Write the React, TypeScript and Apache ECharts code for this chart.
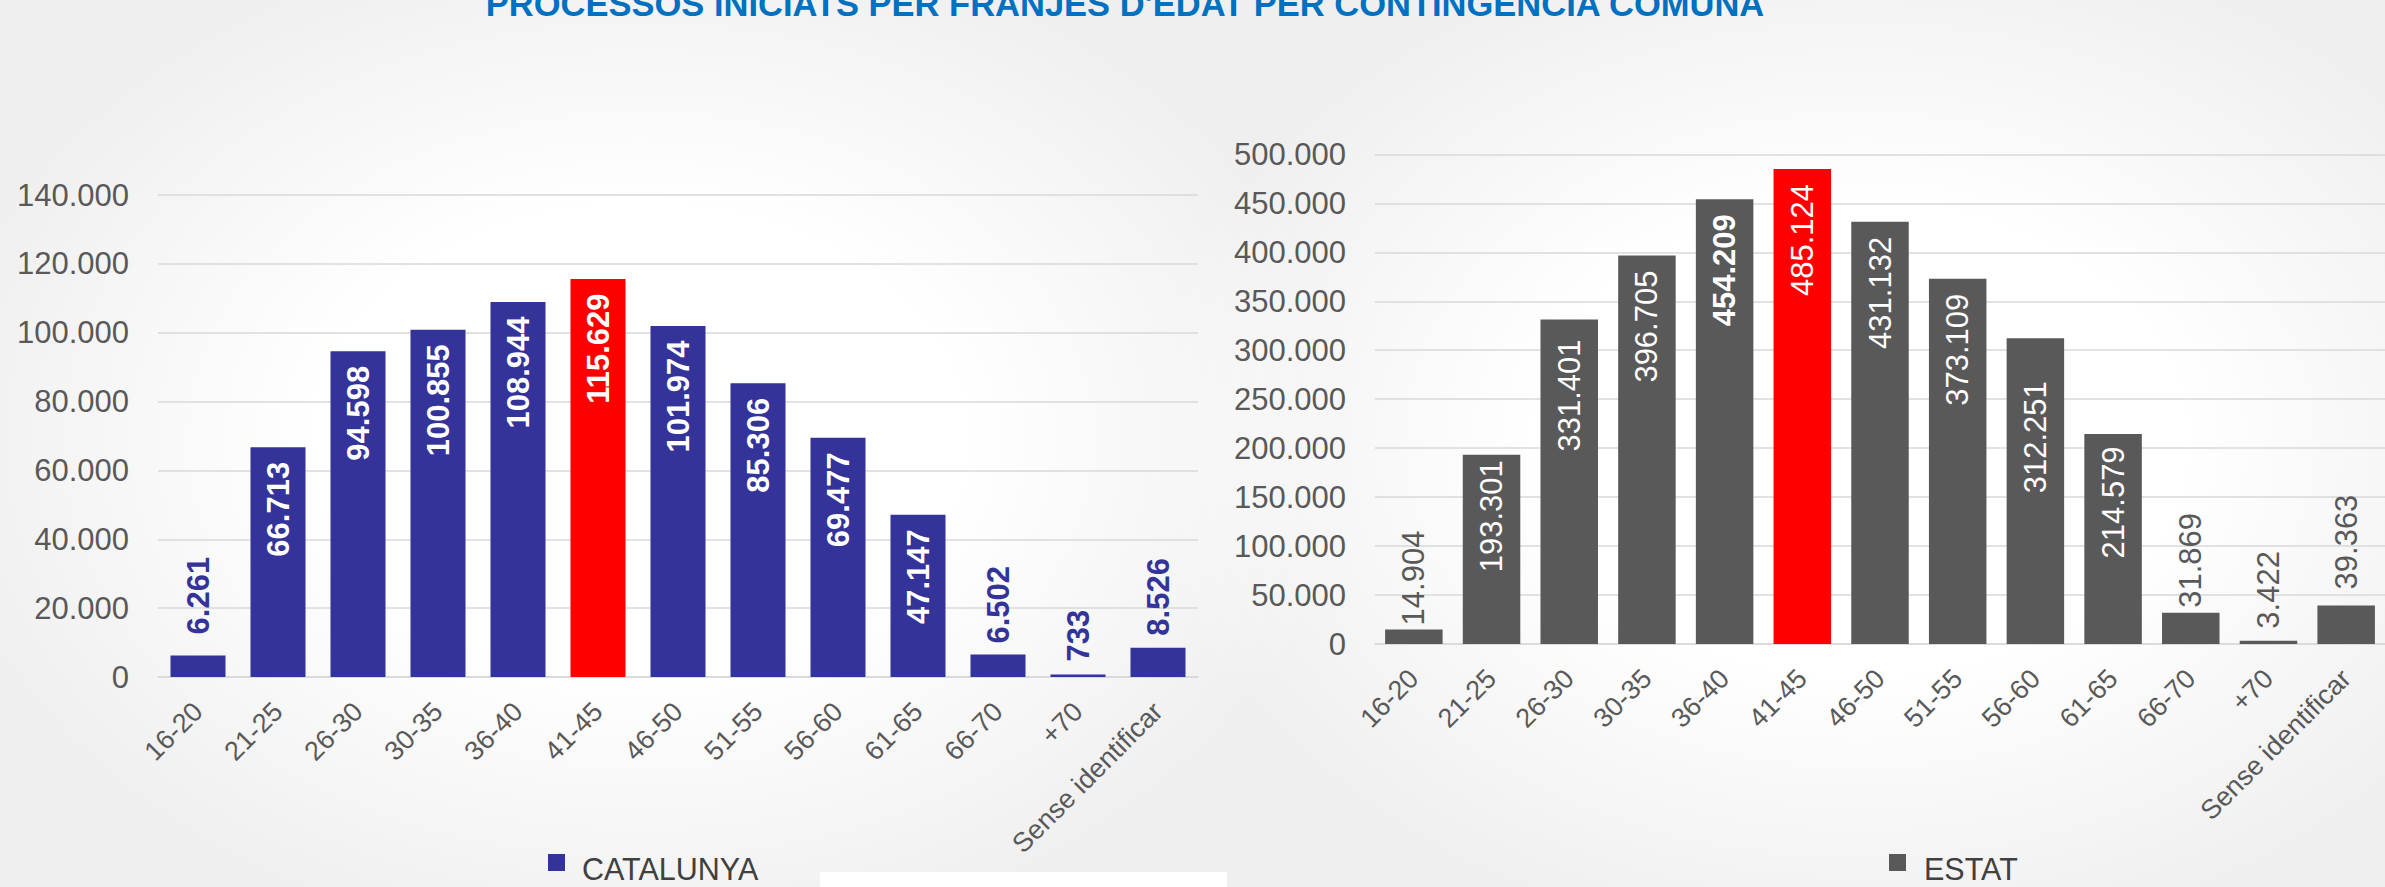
import React, { useEffect, useRef } from "react";
import * as echarts from "echarts";

// ---------- data ----------
const categories = [
  "16-20", "21-25", "26-30", "30-35", "36-40", "41-45", "46-50",
  "51-55", "56-60", "61-65", "66-70", "+70", "Sense identificar",
];
const catalunyaValues = [6261, 66713, 94598, 100855, 108944, 115629, 101974, 85306, 69477, 47147, 6502, 733, 8526];
const estatValues = [14904, 193301, 331401, 396705, 454209, 485124, 431132, 373109, 312251, 214579, 31869, 3422, 39363];
const highlightIndex = 5;
const catalunyaOutsideIdx = [0, 10, 11, 12];
const estatOutsideIdx = [0, 10, 11, 12];
const estatBoldIdx = [4];
const titleText = "PROCESSOS INICIATS PER FRANJES D'EDAT PER CONTINGÈNCIA COMUNA";
const legendNames = ["CATALUNYA", "ESTAT"];
const catalunyaAxis = { min: 0, max: 140000, interval: 20000 };
const estatAxis = { min: 0, max: 500000, interval: 50000 };

// ---------- style ----------
const FONT = "'Liberation Sans', Arial, sans-serif";
const BLUE = "#333399";
const RED = "#FF0000";
const GREY_BAR = "#595959";
const AXIS_TEXT = "#595959";
const GRID_LINE = "#d9d9d9";
const catLabelDist: Record<number, number> = { 0: 21, 10: 11, 11: 13, 12: 12 };
const estLabelDist: Record<number, number> = { 0: 4, 10: 5, 11: 12, 12: 16, 1: 5.5, 2: 20, 8: 43, 9: 12.5 };

const fmt = (v: number) => String(v).replace(/\B(?=(\d{3})+(?!\d))/g, ".");

export default function App() {
  const ref = useRef<HTMLDivElement>(null);

  useEffect(() => {
    if (!ref.current) return;
    const chart = echarts.init(ref.current, undefined, { renderer: "svg" });

    const catData = catalunyaValues.map((v, i) => {
      const outside = catalunyaOutsideIdx.includes(i);
      return {
        value: v,
        itemStyle: { color: i === highlightIndex ? RED : BLUE },
        label: outside
          ? { position: "top", align: "left", color: BLUE, distance: catLabelDist[i] ?? 12 }
          : { position: "insideTop", align: "right", color: "#ffffff", distance: catLabelDist[i] ?? 14.5 },
      };
    });

    const estData = estatValues.map((v, i) => {
      const outside = estatOutsideIdx.includes(i);
      return {
        value: v,
        itemStyle: { color: i === highlightIndex ? RED : GREY_BAR },
        label: outside
          ? { position: "top", align: "left", color: AXIS_TEXT, distance: estLabelDist[i] ?? 8 }
          : {
              position: "insideTop",
              align: "right",
              color: "#ffffff",
              distance: estLabelDist[i] ?? 15,
              fontWeight: estatBoldIdx.includes(i) ? "bold" : "normal",
            },
      };
    });

    const xAxisCommon = {
      type: "category",
      data: categories,
      axisTick: { show: false },
      axisLine: { show: true, lineStyle: { color: GRID_LINE, width: 1.5 } },
      axisLabel: {
        interval: 0,
        rotate: 45,
        margin: 30,
        fontSize: 27,
        color: AXIS_TEXT,
        fontFamily: FONT,
      },
    };
    const yAxisCommon = {
      type: "value",
      axisLine: { show: false },
      axisTick: { show: false },
      splitLine: { show: true, lineStyle: { color: GRID_LINE, width: 1.5 } },
      axisLabel: {
        margin: 29,
        fontSize: 31,
        color: AXIS_TEXT,
        fontFamily: FONT,
        formatter: (v: number) => fmt(v),
      },
    };

    chart.setOption({
      animation: false,
      backgroundColor: "transparent",
      grid: [
        { left: 158, top: 195, width: 1040, height: 482 },
        { left: 1375, top: 154.4, width: 1024, height: 489.6 },
      ],
      xAxis: [
        { ...xAxisCommon, gridIndex: 0 },
        { ...xAxisCommon, gridIndex: 1 },
      ],
      yAxis: [
        { ...yAxisCommon, gridIndex: 0, ...catalunyaAxis },
        { ...yAxisCommon, gridIndex: 1, ...estatAxis },
      ],
      series: [
        {
          name: legendNames[0],
          type: "bar",
          xAxisIndex: 0,
          yAxisIndex: 0,
          barWidth: 55,
          data: catData,
          label: {
            show: true,
            rotate: 90,
            verticalAlign: "middle",
            fontSize: 31,
            fontWeight: "bold",
            fontFamily: FONT,
            formatter: (p: any) => fmt(p.value),
          },
        },
        {
          name: legendNames[1],
          type: "bar",
          xAxisIndex: 1,
          yAxisIndex: 1,
          barWidth: 57.5,
          data: estData,
          label: {
            show: true,
            rotate: 90,
            verticalAlign: "middle",
            fontSize: 31,
            fontWeight: "normal",
            fontFamily: FONT,
            formatter: (p: any) => fmt(p.value),
          },
        },
      ],
      graphic: [
        {
          type: "text",
          x: 1125,
          y: 4,
          style: {
            text: titleText,
            fill: "#0070C0",
            font: `bold 34.5px ${FONT}`,
            textAlign: "center",
            textVerticalAlign: "middle",
          },
        },
        {
          type: "rect",
          shape: { x: 820, y: 872, width: 407, height: 20 },
          style: { fill: "#ffffff" },
        },
        {
          type: "rect",
          shape: { x: 548, y: 854, width: 17, height: 17 },
          style: { fill: BLUE },
        },
        {
          type: "text",
          x: 582,
          y: 869,
          style: {
            text: legendNames[0],
            fill: "#404040",
            font: `30.5px ${FONT}`,
            textAlign: "left",
            textVerticalAlign: "middle",
          },
        },
        {
          type: "rect",
          shape: { x: 1889, y: 854, width: 17, height: 17 },
          style: { fill: GREY_BAR },
        },
        {
          type: "text",
          x: 1924,
          y: 869,
          style: {
            text: legendNames[1],
            fill: "#404040",
            font: `30.5px ${FONT}`,
            textAlign: "left",
            textVerticalAlign: "middle",
          },
        },
      ],
    });

    return () => chart.dispose();
  }, []);

  return (
    <div
      ref={ref}
      style={{
        position: "absolute",
        left: 0,
        top: 0,
        width: 2385,
        height: 887,
        background:
          "radial-gradient(ellipse 720px 520px at 640px 440px, #ffffff 0%, #ffffff 45%, rgba(255,255,255,0) 100%)," +
          "radial-gradient(ellipse 720px 520px at 1860px 440px, #ffffff 0%, #ffffff 45%, rgba(255,255,255,0) 100%)," +
          "#efefef",
      }}
    />
  );
}
